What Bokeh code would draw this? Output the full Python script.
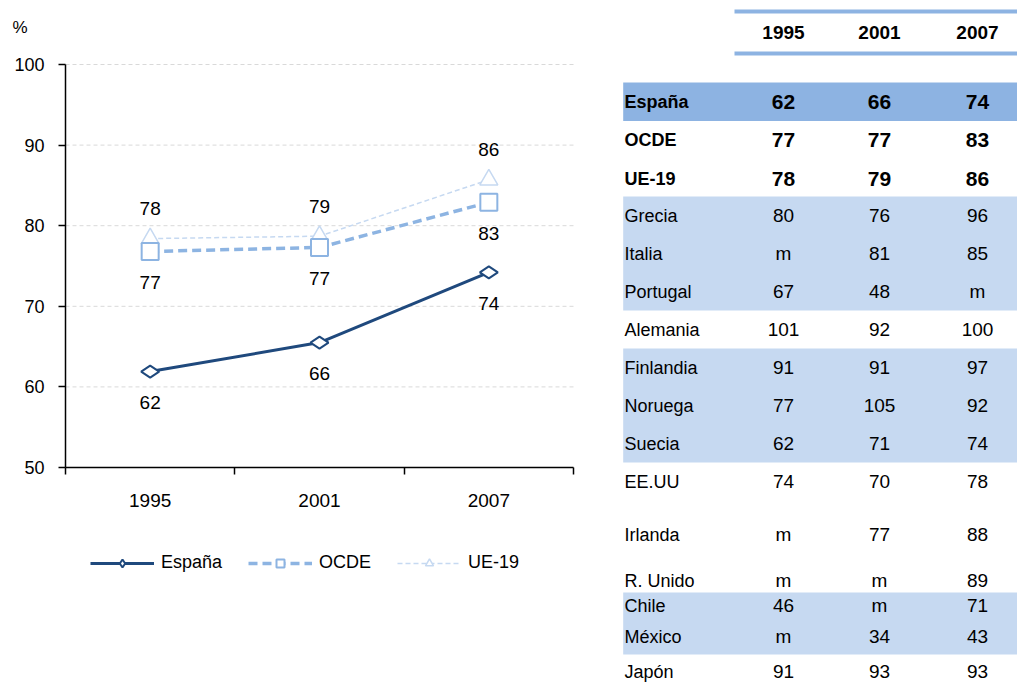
import math
from bokeh.plotting import figure
from bokeh.models import (Range1d, FixedTicker, Legend, LegendItem, Label,
                          ColumnDataSource)
from bokeh.embed import file_html
from bokeh.resources import INLINE
from bokeh.core.properties import value

# ---------------- data ----------------
years = ["1995", "2001", "2007"]
espana = [61.9, 65.5, 74.2]
ocde = [76.8, 77.3, 82.9]
ue19 = [78.4, 78.7, 85.7]
y_ticks = [50, 60, 70, 80, 90, 100]
grid_vals = [60, 70, 80, 90, 100]

countries = ["España", "OCDE", "UE-19", "Grecia", "Italia", "Portugal",
             "Alemania", "Finlandia", "Noruega", "Suecia", "EE.UU",
             "Irlanda", "R. Unido", "Chile", "México", "Japón"]
t1995 = [62, 77, 78, 80, None, 67, 101, 91, 77, 62, 74, None, None, 46, None, 91]
t2001 = [66, 77, 79, 76, 81, 48, 92, 91, 105, 71, 70, 77, None, None, 34, 93]
t2007 = [74, 83, 86, 96, 85, None, 100, 97, 92, 74, 78, 88, 89, 71, 43, 93]
n_bold = 3  # España, OCDE, UE-19

# ---------------- styles / layout ----------------
CHART_FONT = "Liberation Sans"
TABLE_FONT = "Liberation Sans"
C_ESP = "#1F497D"
C_OCDE = "#8DB4E2"
C_UE = "#C6D9F1"
C_BAND_DARK = "#8DB3E2"
C_BAND = "#C6D9F1"
C_GRID = "#D9D9D9"

W, H = 1017, 684
PL, PR, PT, PB = 65, 573, 64, 467        # plot area in pixels
X0, X1, Y0, Y1 = 0, 3, 50, 100            # plot area in data units
sx = (PR - PL) / (X1 - X0)
sy = (PB - PT) / (Y1 - Y0)
x_range = Range1d(X0 - PL / sx, X1 + (W - PR) / sx)
y_range = Range1d(Y0 - (H - PB) / sy, Y1 + PT / sy)


def fmt(v):
    return "m" if v is None else str(v)


p = figure(width=W, height=H, x_range=x_range, y_range=y_range,
           output_backend="svg", toolbar_location=None, min_border=0)
p.outline_line_color = None
p.background_fill_color = "white"
p.border_fill_color = "white"
p.grid.visible = False
p.extra_x_ranges = {"px": Range1d(0, W)}
p.extra_y_ranges = {"py": Range1d(H, 0)}

# axes drawn at the plot-area edges
ya = p.yaxis[0]
ya.fixed_location = X0
ya.bounds = (Y0, Y1)
ya.ticker = FixedTicker(ticks=y_ticks)
ya.axis_line_color = "black"
ya.axis_line_width = 1.5
ya.major_tick_line_color = "black"
ya.major_tick_line_width = 1.5
ya.major_tick_out = 7
ya.major_tick_in = 0
ya.minor_tick_line_color = None
ya.major_label_text_font = CHART_FONT
ya.major_label_text_font_size = "18px"
ya.major_label_text_color = "black"
ya.major_label_standoff = 14

xs = [X0 + i + 0.5 for i in range(len(years))]
xa = p.xaxis[0]
xa.fixed_location = Y0
xa.bounds = (X0, X1)
xa.ticker = FixedTicker(ticks=xs, minor_ticks=[X0 + i for i in range(len(years) + 1)])
xa.major_label_overrides = {x: y for x, y in zip(xs, years)}
xa.axis_line_color = "black"
xa.axis_line_width = 1.5
xa.major_tick_line_color = None
xa.minor_tick_line_color = "black"
xa.minor_tick_line_width = 1.5
xa.minor_tick_out = 7
xa.minor_tick_in = 0
xa.major_label_text_font = CHART_FONT
xa.major_label_text_font_size = "19px"
xa.major_label_text_color = "black"
xa.major_label_standoff = 19

# dashed horizontal gridlines limited to the plot area
p.segment(x0=[X0] * len(grid_vals), x1=[X1] * len(grid_vals), y0=grid_vals, y1=grid_vals,
          line_color=C_GRID, line_width=1, line_dash="4 3")

src = ColumnDataSource(dict(x=xs, esp=espana, ocde=ocde, ue=ue19,
                            esp_l=[fmt(v) for v in (t1995[0], t2001[0], t2007[0])],
                            ocde_l=[fmt(v) for v in (t1995[1], t2001[1], t2007[1])],
                            ue_l=[fmt(v) for v in (t1995[2], t2001[2], t2007[2])]))

ue_line = p.line("x", "ue", source=src, line_color=C_UE, line_width=1.5, line_dash="5 3")
ue_mk = p.scatter("x", "ue", source=src, marker="triangle", size=18, fill_color="white",
                  line_color=C_UE, line_width=1.5)
ocde_line = p.line("x", "ocde", source=src, line_color=C_OCDE, line_width=3.5, line_dash="9 5")
ocde_mk = p.scatter("x", "ocde", source=src, marker="square", size=17, fill_color="white",
                    line_color=C_OCDE, line_width=2)
esp_line = p.line("x", "esp", source=src, line_color=C_ESP, line_width=3)
esp_mk = p.scatter("x", "esp", source=src, marker="diamond", angle=math.pi / 2, size=18,
                   fill_color="white", line_color=C_ESP, line_width=2)

lab_kw = dict(source=src, text_align="center", text_baseline="middle",
              text_font=value(CHART_FONT), text_font_size="19px", text_color="black")
p.text("x", "ue", text="ue_l", y_offset=-30, **lab_kw)
p.text("x", "ocde", text="ocde_l", y_offset=31, **lab_kw)
p.text("x", "esp", text="esp_l", y_offset=31, **lab_kw)

legend = Legend(items=[LegendItem(label="España", renderers=[esp_line, esp_mk]),
                       LegendItem(label="OCDE", renderers=[ocde_line, ocde_mk]),
                       LegendItem(label="UE-19", renderers=[ue_line, ue_mk])],
                orientation="horizontal", location=(90, H - 573))
legend.border_line_color = None
legend.background_fill_alpha = 0
legend.glyph_width = 64
legend.glyph_height = 20
legend.label_standoff = 7
legend.spacing = 26
legend.padding = 10
legend.margin = 0
legend.label_text_font = CHART_FONT
legend.label_text_font_size = "18px"
legend.label_text_color = "black"
p.add_layout(legend)

p.add_layout(Label(x=19.5, y=H - 26.5, x_units="screen", y_units="screen", text="%",
                   text_align="center", text_baseline="middle",
                   text_font=CHART_FONT, text_font_size="17px", text_color="black"))

# ---------------- table (pixel ranges) ----------------
row_y = [101, 139, 178, 215, 253, 291, 329, 367, 405, 443, 481, 534, 580, 605, 636, 671]
col_x = [783, 879, 977]
name_x = 624
bands = [  # (top, bottom, color)
    (82, 120.5, C_BAND_DARK),
    (196, 310, C_BAND),
    (348, 462, C_BAND),
    (592, 654, C_BAND),
]
tk = dict(x_range_name="px", y_range_name="py")

p.quad(left=[622.7] * len(bands), right=[W] * len(bands),
       top=[b[0] for b in bands], bottom=[b[1] for b in bands],
       fill_color=[b[2] for b in bands], line_color=None, **tk)
p.quad(left=[734, 734], right=[W, W], top=[9, 51], bottom=[13, 55],
       fill_color=C_BAND_DARK, line_color=None, **tk)

p.text(x=col_x, y=[32] * 3, text=years, text_align="center", text_baseline="middle",
       text_font=value(TABLE_FONT), text_font_size="19px", text_font_style="bold",
       text_color="black", **tk)

p.text(x=[name_x] * n_bold, y=row_y[:n_bold], text=countries[:n_bold], text_align="left",
       text_baseline="middle", text_font=value(TABLE_FONT), text_font_size="18px",
       text_font_style="bold", text_color="black", **tk)
p.text(x=[name_x] * (len(countries) - n_bold), y=row_y[n_bold:], text=countries[n_bold:],
       text_align="left", text_baseline="middle", text_font=value(TABLE_FONT),
       text_font_size="18px", text_color="black", **tk)

for cx, col in zip(col_x, (t1995, t2001, t2007)):
    p.text(x=[cx] * n_bold, y=row_y[:n_bold], text=[fmt(v) for v in col[:n_bold]],
           text_align="center", text_baseline="middle", text_font=value(TABLE_FONT),
           text_font_size="21px", text_font_style="bold", text_color="black", **tk)
    p.text(x=[cx] * (len(col) - n_bold), y=row_y[n_bold:], text=[fmt(v) for v in col[n_bold:]],
           text_align="center", text_baseline="middle", text_font=value(TABLE_FONT),
           text_font_size="19px", text_color="black", **tk)

open("out.html", "w").write(file_html(p, INLINE))
